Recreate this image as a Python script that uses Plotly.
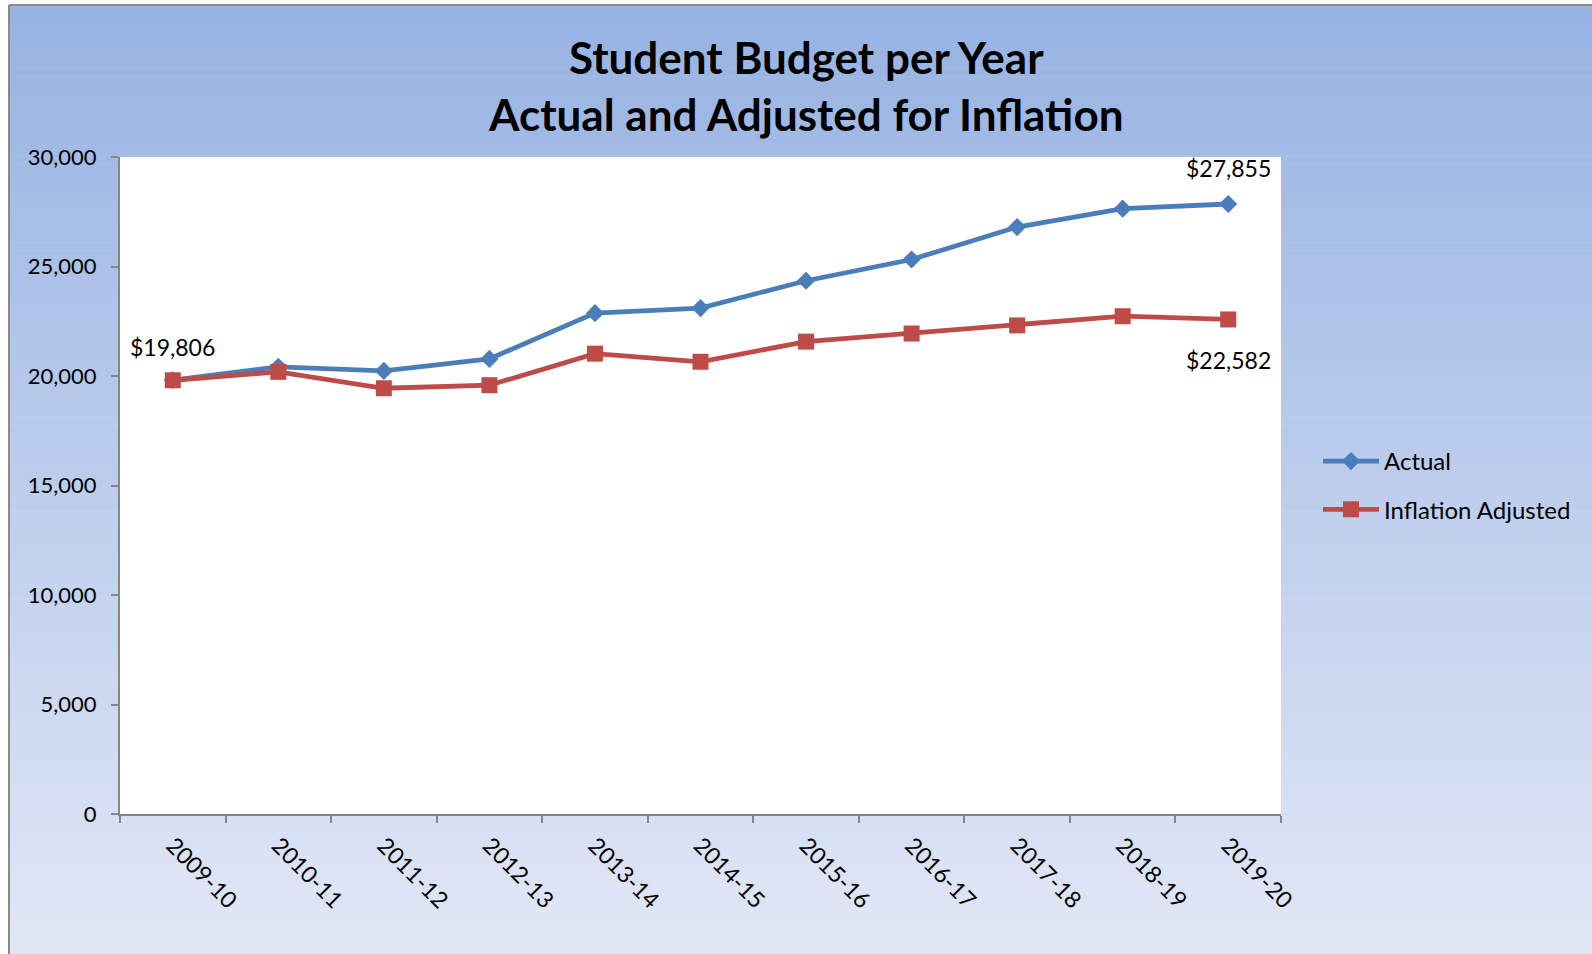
import plotly.graph_objects as go

# ---------------- data ----------------
years = ["2009-10", "2010-11", "2011-12", "2012-13", "2013-14", "2014-15",
         "2015-16", "2016-17", "2017-18", "2018-19", "2019-20"]
actual = [19806, 20420, 20230, 20780, 22870, 23100, 24350, 25320, 26800, 27640, 27855]
inflation_adjusted = [19806, 20190, 19440, 19580, 21020, 20650, 21570, 21940, 22310, 22730, 22582]
y_ticks = [0, 5000, 10000, 15000, 20000, 25000, 30000]

title_line1 = "Student Budget per Year"
title_line2 = "Actual and Adjusted for Inflation"

# ---------------- geometry helpers (pixels -> paper) ----------------
W, H = 1592, 954
PL, PR, PT, PB = 120, 1281, 157, 814   # plot area in pixels


def px_x(x):
    return (x - PL) / (PR - PL)


def px_y(y):
    return (PB - y) / (PB - PT)


BLUE = "#4A7EBB"
RED = "#BE4B48"
FONT = "Lato"

fig = go.Figure()
fig.add_trace(go.Scatter(
    x=years, y=actual, name="Actual", mode="lines+markers",
    line=dict(color=BLUE, width=4.8),
    marker=dict(symbol="diamond", size=14, color=BLUE, line=dict(width=0)),
    legendgroup="a",
))
fig.add_trace(go.Scatter(
    x=years, y=inflation_adjusted, name="Inflation Adjusted", mode="lines+markers",
    line=dict(color=RED, width=4.8),
    marker=dict(symbol="square", size=16, color=RED, line=dict(width=0)),
    legendgroup="b",
))

shapes = []
# background gradient (styling)
top = (151, 179, 226)
bot = (225, 231, 246)
n = 120
y0px, y1px = 5, H
for i in range(n):
    t = i / (n - 1)
    c = tuple(round(top[k] + (bot[k] - top[k]) * t) for k in range(3))
    ya = y0px + (y1px - y0px) * i / n
    yb = y0px + (y1px - y0px) * (i + 1) / n + 0.6
    shapes.append(dict(type="rect", xref="paper", yref="paper", layer="below",
                       x0=px_x(9), x1=px_x(W + 2), y0=px_y(yb), y1=px_y(ya),
                       line=dict(width=0), fillcolor="rgb(%d,%d,%d)" % c))
# white plot area
shapes.append(dict(type="rect", xref="paper", yref="paper", layer="below",
                   x0=0, x1=1, y0=0, y1=1, line=dict(width=0), fillcolor="white"))
# outer border (left and top)
shapes.append(dict(type="line", xref="paper", yref="paper", layer="above",
                   x0=px_x(9), x1=px_x(9), y0=px_y(H + 2), y1=px_y(5),
                   line=dict(color="#8A8A8A", width=2)))
shapes.append(dict(type="line", xref="paper", yref="paper", layer="above",
                   x0=px_x(9), x1=px_x(W + 2), y0=px_y(5), y1=px_y(5),
                   line=dict(color="#8A8A8A", width=2)))

annotations = [
    dict(text="<b>%s</b>" % title_line1, xref="paper", yref="paper",
         x=px_x(806), y=px_y(57), showarrow=False, xanchor="center", yanchor="middle",
         font=dict(family=FONT, size=44, color="black")),
    dict(text="<b>%s</b>" % title_line2, xref="paper", yref="paper",
         x=px_x(806), y=px_y(114), showarrow=False, xanchor="center", yanchor="middle",
         font=dict(family=FONT, size=44, color="black")),
    dict(text="${:,.0f}".format(actual[0]), x=years[0], y=actual[0], yshift=33,
         showarrow=False, font=dict(family=FONT, size=23, color="black")),
    dict(text="${:,.0f}".format(actual[-1]), x=years[-1], y=actual[-1], yshift=36,
         showarrow=False, font=dict(family=FONT, size=23, color="black")),
    dict(text="${:,.0f}".format(inflation_adjusted[-1]), x=years[-1], y=inflation_adjusted[-1],
         yshift=-41, showarrow=False, font=dict(family=FONT, size=23, color="black")),
]

fig.update_layout(
    width=W, height=H,
    margin=dict(l=PL, r=W - PR, t=PT, b=H - PB, pad=0),
    paper_bgcolor="white",
    plot_bgcolor="rgba(0,0,0,0)",
    font=dict(family=FONT, size=22, color="black"),
    shapes=shapes,
    annotations=annotations,
    showlegend=True,
    legend=dict(x=px_x(1318), y=0.5, xanchor="left", yanchor="middle",
                bgcolor="rgba(0,0,0,0)", font=dict(family=FONT, size=24, color="black"),
                tracegroupgap=14, itemwidth=56),
    xaxis=dict(
        type="category", categoryorder="array", categoryarray=years,
        range=[-0.5, len(years) - 0.5],
        showline=True, linecolor="#868686", linewidth=2,
        ticks="outside", tickson="boundaries", ticklen=7, tickcolor="#868686", tickwidth=2,
        tickangle=45, showgrid=False, zeroline=False, ticklabelstandoff=7,
        tickfont=dict(family=FONT, size=23, color="black"),
    ),
    yaxis=dict(
        range=[0, 30000], tickvals=y_ticks, tickformat=",",
        showline=True, linecolor="#868686", linewidth=2,
        ticks="outside", ticklen=7, tickcolor="#868686", tickwidth=2,
        showgrid=False, zeroline=False, ticklabelstandoff=10,
        tickfont=dict(family=FONT, size=22, color="black"),
    ),
)

fig.write_html("out.html", config={"displayModeBar": False},
               post_script="document.body.style.margin='0';document.body.style.overflow='hidden';")
